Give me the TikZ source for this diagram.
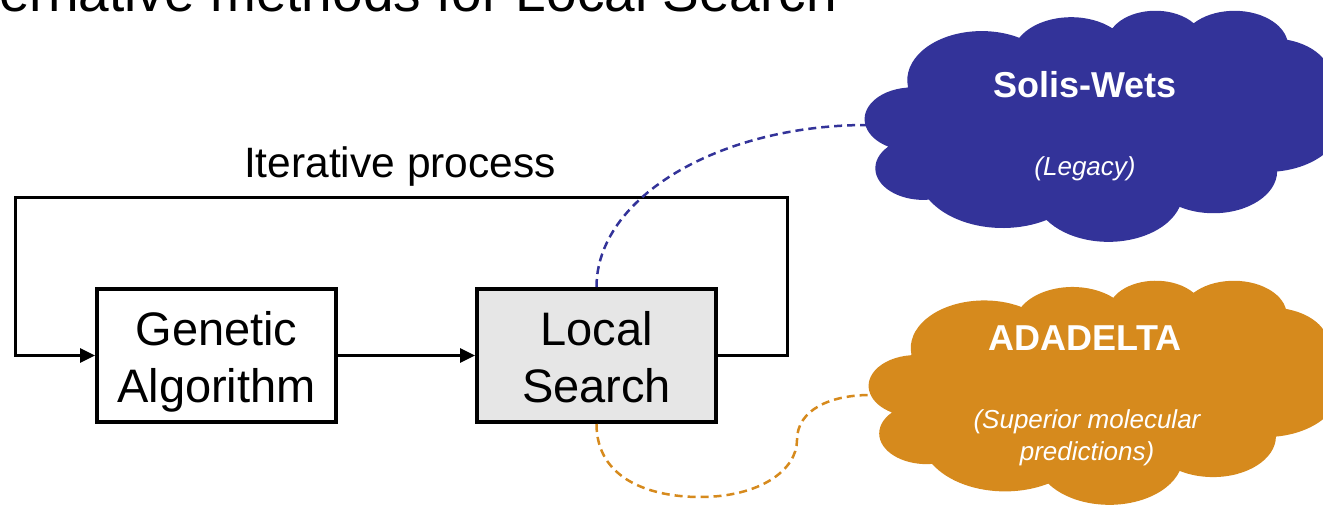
\documentclass[tikz,border=0pt]{standalone}
\usepackage{fontspec}
\setmainfont{Liberation Sans}
\usetikzlibrary{arrows.meta}
\definecolor{cblue}{RGB}{51,51,153}
\definecolor{corange}{RGB}{214,138,29}
\definecolor{lsgray}{RGB}{230,230,230}
% convert a DrawingML (visual) arc angle to a parametric one
\newcommand\cldang[6]{%
 \pgfmathsetmacro#1{atan2(#3*sin(#5),#4*cos(#5))}%
 \pgfmathsetmacro\cldtmpb{atan2(#3*sin(#5+#6),#4*cos(#5+#6))}%
 \pgfmathsetmacro#2{\cldtmpb-#1}%
 \pgfmathsetmacro#2{#2-360*round((#2-#6)/360)}%
}
\cldang\clsa\clda{15.632}{21.273}{-190.4875}{123.7805}
\cldang\clsb\cldb{12.345}{16.822}{-144.1024}{89.9452}
\cldang\clsc\cldc{10.104}{13.762}{-145.8079}{99.7230}
\cldang\clsd\cldd{11.243}{15.266}{-130.9861}{117.2417}
\cldang\clse\clde{12.345}{16.836}{-78.7089}{109.0269}
\cldang\clsf\cldf{15.683}{21.343}{-46.2673}{130.2690}
\cldang\clsg\cldg{13.391}{18.211}{0.6250}{114.0333}
\cldang\clsh\cldh{15.630}{21.331}{22.4516}{115.1726}
\cldang\clsi\cldi{17.870}{24.405}{66.2426}{75.7110}
\cldang\clsj\cldj{10.093}{13.699}{-274.9421}{146.7356}
\cldang\clsk\cldk{10.058}{13.762}{-246.8285}{152.5189}
\newcommand\drawcloud[1]{%
 \fill[#1] (9.0278,33.2639)
 arc[start angle=\clsa,delta angle=\clda,x radius=15.632,y radius=21.273]
 arc[start angle=\clsb,delta angle=\cldb,x radius=12.345,y radius=16.822]
 arc[start angle=\clsc,delta angle=\cldc,x radius=10.104,y radius=13.762]
 arc[start angle=\clsd,delta angle=\cldd,x radius=11.243,y radius=15.266]
 arc[start angle=\clse,delta angle=\clde,x radius=12.345,y radius=16.836]
 arc[start angle=\clsf,delta angle=\cldf,x radius=15.683,y radius=21.343]
 arc[start angle=\clsg,delta angle=\cldg,x radius=13.391,y radius=18.211]
 arc[start angle=\clsh,delta angle=\cldh,x radius=15.630,y radius=21.331]
 arc[start angle=\clsi,delta angle=\cldi,x radius=17.870,y radius=24.405]
 arc[start angle=\clsj,delta angle=\cldj,x radius=10.093,y radius=13.699]
 arc[start angle=\clsk,delta angle=\cldk,x radius=10.058,y radius=13.762]
 -- cycle;}
\begin{document}
\begin{tikzpicture}[x=1pt,y=-1pt,
  box/.style={draw=black, line width=4pt, minimum width=239pt, minimum height=133pt,
    inner sep=0pt, align=center, font=\fontsize{47}{57}\selectfont,
    text height=103pt, text depth=10pt},
  flow/.style={line width=3pt, line join=miter, -{Triangle[length=15pt,width=14pt]}},
  link/.style={line width=2.5pt, dash pattern=on 8pt off 5pt},
  cloudtitle/.style={font=\fontsize{36}{43}\selectfont\bfseries, text=white, anchor=base, inner sep=0pt},
  cloudnote/.style={font=\fontsize{26}{32}\selectfont\itshape, text=white, anchor=base, inner sep=0pt, align=center}]
\useasboundingbox (0,0) rectangle (1323,506);
\clip (0,0) rectangle (1323,506);

% title (cut off by the frame, as in the reference)
\node[anchor=base west, font=\fontsize{55}{66}\selectfont, inner sep=0pt] (title) at (-65,11) {Alternative methods for Local Search};

% clouds
\begin{scope}[shift={(865,10)}, x=4.76pt, y=-2.31pt]
  \drawcloud{cblue}
\end{scope}
\begin{scope}[shift={(869,280)}, x=4.7pt, y=-2.24pt]
  \drawcloud{corange}
\end{scope}
\node[cloudtitle] (sw) at (1085,97) {Solis-Wets};
\node[cloudnote] (swl) at (1085,175) {(Legacy)};
\node[cloudtitle] (ad) at (1085,350) {ADADELTA};
\node[cloudnote] (adl) at (1087,460) {(Superior molecular\\predictions)};

% boxes
\node[box] (ga) at (216.5,355.5) {Genetic\\Algorithm};
\node[box, fill=lsgray] (ls) at (596.5,355.5) {Local\\Search};
\node[anchor=base, font=\fontsize{42.5}{50}\selectfont, inner sep=0pt] (iter) at (400,177) {Iterative process};

% flow
\coordinate (tr) at (787,197);
\coordinate (tl) at (15,197);
\draw[flow] (ga.east) -- (ls.west);
\draw[flow] (ls.east) -| (tr) -- (tl) |- (ga.west);

% dashed links
\coordinate (swin) at (867,125);
\coordinate (adin) at (870,395);
\coordinate (o1) at (700,497);
\coordinate (o2) at (797,440);
\draw[link, cblue] (ls.north) .. controls +(0,-90) and +(-147,0) .. (swin);
\draw[link, corange] (ls.south) .. controls +(0,55) and +(-50,0) .. (o1)
  .. controls +(60,0) and +(0,30) .. (o2)
  .. controls +(0,-30) and +(-40,0) .. (adin);
\end{tikzpicture}
\end{document}
